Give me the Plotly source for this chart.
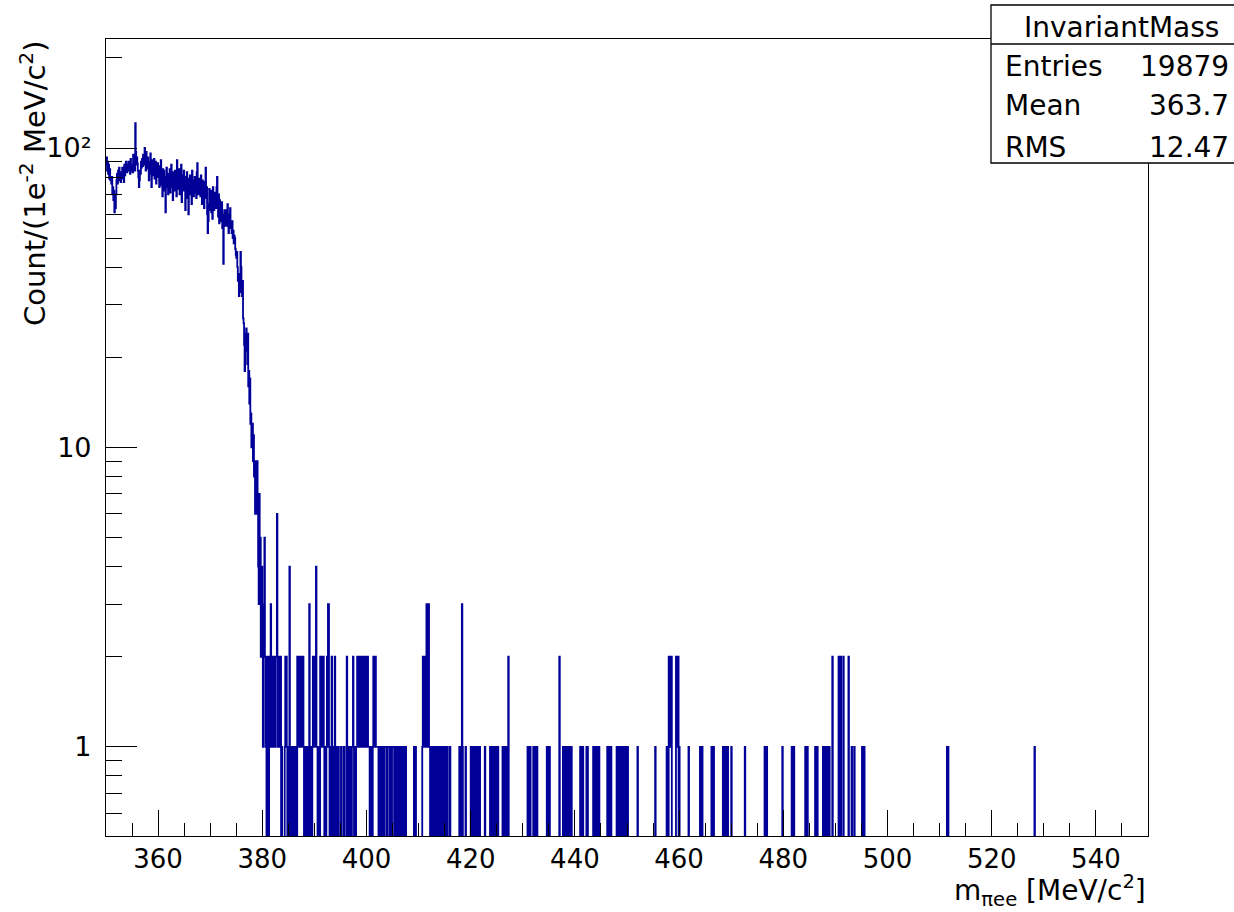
import numpy as np
import plotly.graph_objects as go

# ---------------- data ----------------
bin_width = 0.1
x_min, x_max = 350.0, 550.0

# counts per 0.1 MeV bin from 350.0 to 415.9 (one row = 1 MeV)
dense_counts = [
    88, 93, 84, 90, 82, 88, 79, 85, 78, 80,   # 350
    76, 80, 70, 74, 67, 72, 61, 66, 63, 70,   # 351
    78, 82, 76, 84, 79, 86, 78, 81, 77, 83,   # 352
    80, 86, 79, 82, 77, 88, 81, 84, 90, 85,   # 353
    83, 88, 84, 90, 85, 87, 82, 92, 84, 86,   # 354
    88, 83, 95, 86, 91, 84, 121, 97, 88, 93,  # 355
    89, 84, 80, 74, 78, 84, 82, 90, 86, 92,   # 356
    87, 95, 88, 92, 100, 96, 84, 97, 89, 86,  # 357
    93, 85, 78, 90, 82, 96, 87, 74, 91, 84,   # 358
    88, 81, 92, 79, 85, 90, 76, 86, 83, 89,   # 359
    80, 87, 74, 83, 78, 91, 75, 82, 69, 85,   # 360
    77, 84, 72, 80, 61, 79, 86, 74, 81, 70,   # 361
    82, 76, 85, 71, 79, 88, 74, 80, 67, 83,   # 362
    78, 72, 84, 76, 80, 69, 91, 77, 82, 73,   # 363
    85, 70, 79, 74, 88, 66, 81, 76, 72, 84,   # 364
    75, 80, 62, 78, 71, 83, 68, 76, 60, 79,   # 365
    73, 81, 70, 77, 65, 84, 72, 78, 69, 75,   # 366
    80, 71, 77, 68, 83, 89, 74, 70, 79, 72,   # 367
    76, 69, 81, 72, 65, 78, 70, 74, 63, 77,   # 368
    71, 86, 68, 74, 60, 52, 57, 65, 73, 62,   # 369
    66, 72, 61, 70, 58, 74, 65, 62, 71, 64,   # 370
    68, 63, 74, 80, 65, 59, 70, 56, 67, 61,   # 371
    63, 57, 66, 54, 60, 41, 58, 62, 55, 59,   # 372
    58, 62, 55, 65, 57, 52, 60, 54, 63, 56,   # 373
    55, 52, 57, 50, 53, 48, 51, 50, 46, 44,   # 374
    43, 45, 40, 36, 38, 32, 35, 33, 45, 40,   # 375
    34, 32, 36, 27, 26, 22, 18, 24, 21, 25,   # 376
    22, 19, 24, 16, 18, 14, 17, 12, 13, 10,   # 377
    10, 12, 9, 11, 8, 9, 6, 9, 7, 6,          # 378
    9, 7, 4, 3, 7, 4, 5, 2, 3, 4,             # 379
    2, 1, 3, 2, 5, 2, 1, 2, 0, 1,             # 380
    1, 2, 0, 2, 1, 2, 3, 2, 1, 2,             # 381
    1, 2, 2, 1, 2, 1, 2, 2, 6, 2,             # 382
    1, 2, 1, 2, 1, 2, 0, 1, 0, 0,             # 383
    0, 0, 0, 1, 2, 1, 2, 1, 0, 1,             # 384
    1, 0, 4, 1, 1, 0, 0, 1, 1, 0,             # 385
    1, 1, 0, 1, 1, 0, 0, 2, 1, 2,             # 386
    1, 2, 2, 1, 2, 1, 2, 1, 2, 1,             # 387
    0, 1, 1, 0, 1, 0, 1, 1, 0, 1,             # 388
    3, 1, 0, 1, 1, 0, 1, 2, 1, 2,             # 389
    2, 1, 2, 4, 1, 1, 0, 0, 1, 1,             # 390
    0, 2, 1, 2, 1, 2, 1, 2, 1, 0,             # 391
    1, 1, 0, 1, 2, 1, 3, 3, 1, 0,             # 392
    1, 0, 1, 2, 1, 0, 1, 1, 0, 2,             # 393
    1, 0, 1, 0, 0, 0, 1, 0, 0, 0,             # 394
    0, 1, 0, 0, 0, 0, 1, 0, 0, 0,             # 395
    0, 1, 2, 0, 1, 0, 1, 1, 0, 1,             # 396
    1, 0, 1, 1, 2, 1, 0, 1, 1, 0,             # 397
    1, 1, 2, 1, 2, 1, 1, 2, 1, 2,             # 398
    1, 2, 1, 1, 2, 1, 2, 1, 2, 1,             # 399
    2, 1, 2, 1, 1, 1, 0, 0, 0, 1,             # 400
    0, 0, 1, 2, 2, 1, 2, 2, 1, 1,             # 401
    1, 1, 1, 0, 1, 1, 1, 0, 1, 0,             # 402
    1, 1, 1, 0, 1, 1, 1, 1, 0, 0,             # 403
    1, 1, 1, 1, 0, 1, 1, 1, 0, 1,             # 404
    1, 1, 1, 0, 1, 1, 0, 0, 1, 1,             # 405
    1, 0, 1, 1, 1, 0, 1, 1, 0, 1,             # 406
    1, 0, 1, 0, 0, 1, 0, 0, 0, 0,             # 407
    0, 0, 0, 0, 0, 0, 0, 0, 0, 0,             # 408
    0, 1, 0, 0, 1, 0, 0, 0, 0, 0,             # 409
    0, 0, 0, 0, 0, 0, 0, 1, 2, 1,             # 410
    2, 1, 2, 1, 2, 3, 1, 1, 1, 3,             # 411
    1, 1, 0, 0, 1, 1, 1, 0, 1, 1,             # 412
    1, 0, 1, 1, 0, 1, 1, 1, 0, 1,             # 413
    1, 1, 0, 1, 1, 0, 1, 0, 1, 1,             # 414
    0, 1, 0, 1, 1, 1, 0, 0, 0, 0,             # 415
]

# isolated filled bins above 416 MeV (bin lower edge, count)
sparse_mass = [
    416.0, 417.8, 417.9, 418.0, 418.3, 418.4, 419.0,
    420.0, 420.2, 420.3, 420.5, 420.7, 420.8, 421.0, 421.2, 421.3, 421.5, 421.7,
    422.7, 423.7, 423.9, 424.0, 424.3, 424.5, 424.7, 424.9, 425.2,
    426.1, 426.3, 426.4, 426.7, 426.9, 427.2,
    430.9, 431.0, 431.3, 431.4, 432.0, 432.2, 432.4, 432.7,
    434.6, 434.8, 435.1, 437.0,
    437.7, 437.9, 438.1, 438.2, 438.5, 438.7, 438.9, 439.1, 439.3,
    441.0, 441.2, 441.5, 442.2, 442.4,
    443.5, 443.7, 443.9, 444.0, 444.3, 444.6,
    446.2, 446.4, 446.7, 446.9,
    448.0, 448.2, 448.4, 448.5, 448.8, 449.0, 449.2, 449.4, 449.6, 449.9, 450.1,
    452.0, 455.4,
    457.6, 457.8, 458.0, 458.1, 458.2, 458.3, 458.4, 458.5,
    459.4, 459.5, 459.6, 459.7, 459.8, 460.0,
    461.8, 464.0, 464.4, 466.2, 466.6, 468.4, 468.6, 469.0, 469.3, 470.0,
    472.6, 476.4, 476.8, 479.8, 481.6, 482.0, 484.2, 484.6, 486.1, 486.5,
    487.6, 487.8, 488.0, 488.1, 488.3, 488.5, 488.8,
    489.4, 490.6, 491.0, 491.5, 492.5, 493.1, 493.6, 495.1, 495.5,
    511.4, 511.5, 511.6, 528.2,
]
sparse_count = [
    1, 1, 1, 1, 3, 1, 1,
    1, 1, 1, 1, 1, 1, 1, 1, 1, 1, 1,
    1, 1, 1, 1, 1, 1, 1, 1, 1,
    1, 1, 1, 1, 1, 2,
    1, 1, 1, 1, 1, 1, 1, 1,
    1, 1, 1, 2,
    1, 1, 1, 1, 1, 1, 1, 1, 1,
    1, 1, 1, 1, 1,
    1, 1, 1, 1, 1, 1,
    1, 1, 1, 1,
    1, 1, 1, 1, 1, 1, 1, 1, 1, 1, 1,
    1, 1,
    1, 1, 2, 1, 2, 2, 1, 2,
    2, 2, 1, 2, 2, 1,
    1, 1, 1, 1, 1, 1, 1, 1, 1, 1,
    1, 1, 1, 1, 1, 1, 1, 1, 1, 1,
    1, 1, 1, 1, 1, 1, 1,
    2, 2, 2, 2, 2, 1, 1, 1, 1,
    1, 1, 1, 1,
]

stats_labels = ["Entries", "Mean", "RMS"]
stats_values = ["19879", "363.7", "12.47"]
hist_name = "InvariantMass"
y_tick_vals = [1, 10, 100]
y_tick_text = ["1", "10", "10²"]

# ---------------- build histogram ----------------
n_bins = int(round((x_max - x_min) / bin_width))
counts = np.zeros(n_bins)
counts[:len(dense_counts)] = dense_counts
for m, c in zip(sparse_mass, sparse_count):
    counts[int(round((m - x_min) / bin_width))] = c
edges = x_min + bin_width * np.arange(n_bins + 1)
# empty bins fall below the log-axis range (drawn to the frame bottom, clipped)
y_plot = np.where(counts > 0, counts, 1e-3)
y_plot = np.append(y_plot, y_plot[-1])

FONT = "DejaVu Sans"
BLUE = "#000099"

fig = go.Figure()
fig.add_trace(go.Scatter(
    x=edges, y=y_plot, mode="lines",
    line=dict(shape="hv", color=BLUE, width=1.8, simplify=False),
    hoverinfo="skip", showlegend=False,
))

L, R, T, B = 106, 86, 39, 76
W, H = 1234, 912
pw, ph = W - L - R, H - T - B


def px(X):
    return (X - L) / pw


def py(Y):
    return (H - B - Y) / ph


minor_y = [0.5, 0.6, 0.7, 0.8, 0.9, 2, 3, 4, 5, 6, 7, 8, 9,
           20, 30, 40, 50, 60, 70, 80, 90, 200]

fig.update_layout(
    width=W, height=H,
    margin=dict(l=L, r=R, t=T, b=B, pad=0),
    paper_bgcolor="white", plot_bgcolor="white",
    font=dict(family=FONT, color="black"),
    xaxis=dict(
        range=[x_min, x_max], showgrid=False, zeroline=False,
        showline=True, linecolor="black", linewidth=1.2, mirror=True,
        tickmode="linear", tick0=360, dtick=20,
        ticks="inside", ticklen=26, tickwidth=1.2, tickcolor="black",
        tickfont=dict(family=FONT, size=26, color="black"),
        minor=dict(tickmode="linear", tick0=350, dtick=5, ticks="inside",
                   ticklen=13, tickwidth=1.2, tickcolor="black", showgrid=False),
    ),
    yaxis=dict(
        type="log", range=[-0.2975, 2.364], showgrid=False, zeroline=False,
        showline=True, linecolor="black", linewidth=1.2, mirror=True,
        tickmode="array", tickvals=y_tick_vals, ticktext=y_tick_text,
        ticks="inside", ticklen=31, tickwidth=1.2, tickcolor="black",
        tickfont=dict(family=FONT, size=27, color="black"),
        ticklabelstandoff=8,
        minor=dict(tickmode="array", tickvals=minor_y, ticks="inside",
                   ticklen=16, tickwidth=1.2, tickcolor="black", showgrid=False),
    ),
)

# stats box
bx0, bx1 = px(991), px(1262)
by0, by1, bsep = py(163), py(5), py(44)
fig.add_shape(type="rect", xref="paper", yref="paper", x0=bx0, x1=bx1, y0=by0, y1=by1,
              line=dict(color="black", width=1.3), fillcolor="white", layer="above")
fig.add_shape(type="line", xref="paper", yref="paper", x0=bx0, x1=bx1, y0=bsep, y1=bsep,
              line=dict(color="black", width=1.3), layer="above")

ann = []
ann.append(dict(text=hist_name, x=px(1121), y=py(27), xref="paper", yref="paper",
                xanchor="center", yanchor="middle", showarrow=False,
                font=dict(family=FONT, size=28, color="black")))
for lab, val, Y in zip(stats_labels, stats_values, [66, 106, 147]):
    ann.append(dict(text=lab, x=px(1003), y=py(Y), xref="paper", yref="paper",
                    xanchor="left", yanchor="middle", showarrow=False,
                    font=dict(family=FONT, size=28, color="black")))
    ann.append(dict(text=val, x=px(1231), y=py(Y), xref="paper", yref="paper",
                    xanchor="right", yanchor="middle", showarrow=False,
                    font=dict(family=FONT, size=28, color="black")))

# axis titles
ann.append(dict(text="m<sub>πee</sub> [MeV/c<sup>2</sup>]", x=px(1148), y=py(890),
                xref="paper", yref="paper", xanchor="right", yanchor="middle",
                showarrow=False, font=dict(family=FONT, size=28, color="black")))
ann.append(dict(text="Count/(1e<sup>-2</sup> MeV/c<sup>2</sup>)", x=px(33), y=py(38),
                xref="paper", yref="paper", xanchor="center", yanchor="top",
                textangle=-90, showarrow=False,
                font=dict(family=FONT, size=29, color="black")))
fig.update_layout(annotations=ann)

fig.write_html("out.html")
